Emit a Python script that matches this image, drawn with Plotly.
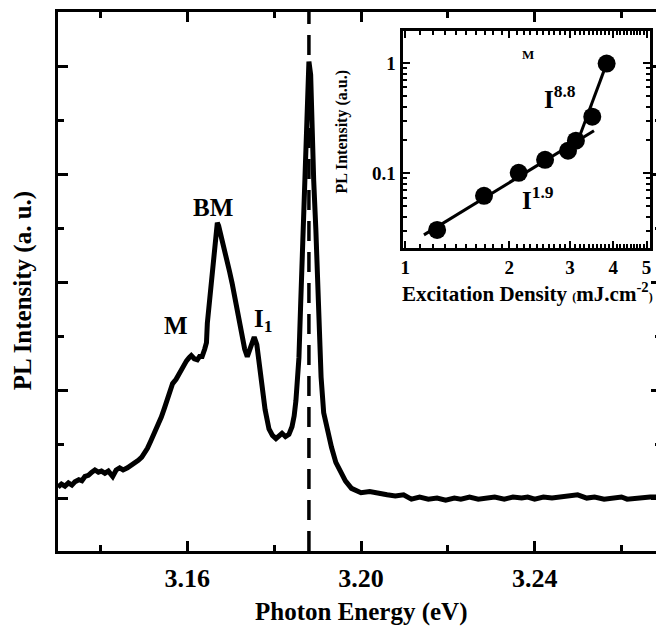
import plotly.graph_objects as go

# ---------------- main spectrum data ----------------
energy_eV = [3.1302, 3.1310, 3.1318, 3.1326, 3.1334, 3.1341, 3.1350, 3.1357, 3.1364, 3.1372,
             3.1380, 3.1387, 3.1395, 3.1402, 3.1410, 3.1418, 3.1428, 3.1436, 3.1444, 3.1452,
             3.1462, 3.1470, 3.1479, 3.1487, 3.1495, 3.1502, 3.1508, 3.1516, 3.1524, 3.1532,
             3.1540, 3.1547, 3.1554, 3.1560, 3.1566, 3.1574, 3.1582, 3.1590, 3.1598, 3.1604,
             3.1609, 3.1616, 3.1623, 3.1628, 3.1634, 3.1640, 3.1644, 3.1646, 3.1652, 3.1657,
             3.1662, 3.1666, 3.1669, 3.1672, 3.1676, 3.1680, 3.1686, 3.1692, 3.1697, 3.1703,
             3.1709, 3.1715, 3.1720, 3.1726, 3.1732, 3.1738, 3.1743, 3.1747, 3.1754, 3.1760,
             3.1765, 3.1770, 3.1775, 3.1779, 3.1788, 3.1796, 3.1804, 3.1811, 3.1818, 3.1826,
             3.1834, 3.1841, 3.1846, 3.1850, 3.1854, 3.1857, 3.1861, 3.1864, 3.1868, 3.1873,
             3.1877, 3.1880, 3.1884, 3.1887, 3.1891, 3.1896, 3.1903, 3.1908, 3.1914, 3.1923,
             3.1932, 3.1942, 3.1953, 3.1964, 3.1978, 3.2000, 3.2020, 3.2040, 3.2060, 3.2079,
             3.2098, 3.2116, 3.2135, 3.2155, 3.2175, 3.2195, 3.2215, 3.2230, 3.2250, 3.2270,
             3.2290, 3.2308, 3.2330, 3.2350, 3.2370, 3.2384, 3.2400, 3.2420, 3.2440, 3.2460,
             3.2480, 3.2499, 3.2520, 3.2538, 3.2560, 3.2580, 3.2600, 3.2613, 3.2630, 3.2650,
             3.2666, 3.2691]
pl_intensity = [0.10, 0.13, 0.11, 0.14, 0.12, 0.15, 0.17, 0.16, 0.20, 0.21,
                0.24, 0.26, 0.24, 0.25, 0.23, 0.25, 0.20, 0.26, 0.28, 0.26,
                0.28, 0.30, 0.32, 0.35, 0.38, 0.42, 0.46, 0.53, 0.60, 0.68,
                0.75, 0.83, 0.91, 0.99, 1.06, 1.10, 1.16, 1.21, 1.27, 1.30,
                1.32, 1.29, 1.28, 1.31, 1.31, 1.38, 1.44, 1.62, 1.86, 2.08,
                2.30, 2.45, 2.55, 2.52, 2.46, 2.38, 2.30, 2.20, 2.10, 1.99,
                1.87, 1.74, 1.62, 1.49, 1.38, 1.31, 1.36, 1.42, 1.49, 1.42,
                1.25, 1.07, 0.93, 0.82, 0.64, 0.58, 0.55, 0.58, 0.60, 0.57,
                0.59, 0.66, 0.76, 0.90, 1.10, 1.30, 1.80, 2.20, 2.80, 3.35,
                3.85, 4.04, 3.92, 3.41, 2.94, 2.48, 1.56, 1.12, 0.79, 0.60,
                0.47, 0.33, 0.24, 0.16, 0.09, 0.05, 0.06, 0.04, 0.03, 0.02,
                0.03, -0.01, 0.01, -0.01, 0.00, -0.02, 0.00, -0.01, 0.01, -0.01,
                0.00, 0.01, -0.01, 0.01, 0.00, 0.01, -0.01, 0.01, 0.00, 0.01,
                0.02, 0.03, 0.00, 0.01, -0.01, 0.00, 0.01, -0.01, 0.00, 0.01,
                0.01, 0.01]
marker_energy = [3.188]

x_tick_vals = [3.16, 3.20, 3.24]
x_tick_text = ["3.16", "3.20", "3.24"]

# ---------------- inset data ----------------
density = [1.236, 1.69, 2.13, 2.54, 2.96, 3.12, 3.48, 3.83]
intensity_M = [0.0305, 0.0622, 0.1006, 0.132, 0.1595, 0.197, 0.325, 0.986]
fit_low_x = [1.132, 3.52]
fit_low_y = [0.0275, 0.2425]
fit_high_x = [3.21, 3.83]
fit_high_y = [0.223, 0.986]

inset_x_ticks = [1, 2, 3, 4, 5]
inset_x_labels = ["1", "2", "3", "4", "5"]
inset_x_minor = [1.1, 1.2, 1.3, 1.4, 1.5, 1.6, 1.7, 1.8, 1.9,
                 2.1, 2.2, 2.3, 2.4, 2.5, 2.6, 2.7, 2.8, 2.9,
                 3.1, 3.2, 3.3, 3.4, 3.5, 3.6, 3.7, 3.8, 3.9,
                 4.1, 4.2, 4.3, 4.4, 4.5, 4.6, 4.7, 4.8, 4.9]
inset_y_ticks = [0.1, 1]
inset_y_labels = ["0.1", "1"]
inset_y_minor = [0.03, 0.04, 0.05, 0.06, 0.07, 0.08, 0.09,
                 0.2, 0.3, 0.4, 0.5, 0.6, 0.7, 0.8, 0.9]

FONT = "Liberation Serif"
OFF = 8  # page body margin offset
W, H = 664 - OFF, 628 - OFF
L, T = 58 - OFF, 12 - OFF
R = 0
B = H - (551 - OFF)
PW, PH = W - L - R, H - T - B


def px(xp):
    return (xp - OFF - L) / PW


def py(yp):
    return (H - B - (yp - OFF)) / PH


def f(size):
    return dict(family=FONT, size=size, color="black", weight="bold")


fig = go.Figure()
fig.add_trace(go.Scatter(x=energy_eV, y=pl_intensity, mode="lines",
                         line=dict(color="black", width=5), xaxis="x", yaxis="y",
                         showlegend=False))
fig.add_trace(go.Scatter(x=fit_low_x, y=fit_low_y, mode="lines",
                         line=dict(color="black", width=3), xaxis="x2", yaxis="y2",
                         showlegend=False))
fig.add_trace(go.Scatter(x=fit_high_x, y=fit_high_y, mode="lines",
                         line=dict(color="black", width=3), xaxis="x2", yaxis="y2",
                         showlegend=False))
fig.add_trace(go.Scatter(x=density, y=intensity_M, mode="markers",
                         marker=dict(color="black", size=18), xaxis="x2", yaxis="y2",
                         showlegend=False))

for xv in marker_energy:
    fig.add_shape(type="line", xref="x", yref="paper", x0=xv, x1=xv, y0=0, y1=1,
                  line=dict(color="black", width=3.5, dash="20px,11px"))

axis_common = dict(showgrid=False, zeroline=False, showline=True, linecolor="black",
                   ticks="inside", tickcolor="black", mirror="ticks")

fig.update_layout(
    width=W, height=H,
    margin=dict(l=L, r=R, t=T, b=B),
    paper_bgcolor="white", plot_bgcolor="rgba(0,0,0,0)",
    font=f(20),
    xaxis=dict(axis_common, domain=[0, 1], range=[3.1302, 3.2691], tickvals=x_tick_vals,
               ticktext=x_tick_text, ticklen=10, tickwidth=3, linewidth=3,
               tickfont=f(26), ticklabelstandoff=2,
               minor=dict(dtick=0.02, tick0=3.16, ticks="inside", ticklen=6, tickwidth=3,
                          tickcolor="black", showgrid=False)),
    yaxis=dict(axis_common, domain=[0, 1], range=[-0.49, 4.5], tick0=0, dtick=1,
               showticklabels=False, ticklen=10, tickwidth=3, linewidth=3,
               minor=dict(dtick=0.5, tick0=0, ticks="inside", ticklen=6, tickwidth=3,
                          tickcolor="black", showgrid=False)),
    xaxis2=dict(axis_common, type="log", domain=[px(405), px(653)], range=[-0.006, 0.709],
                anchor="y2", mirror="allticks", tickvals=inset_x_ticks, ticktext=inset_x_labels,
                ticklen=7, tickwidth=2, linewidth=2.5, tickfont=f(19), ticklabelstandoff=0,
                minor=dict(tickvals=inset_x_minor, ticks="inside", ticklen=4, tickwidth=1.5,
                           tickcolor="black", showgrid=False)),
    yaxis2=dict(axis_common, type="log", domain=[py(248), py(31)], range=[-1.68, 0.29],
                anchor="x2", mirror="allticks", tickvals=inset_y_ticks, ticktext=inset_y_labels,
                ticklen=7, tickwidth=2, linewidth=2.5, tickfont=f(19), ticklabelstandoff=1,
                minor=dict(tickvals=inset_y_minor, ticks="inside", ticklen=4, tickwidth=1.5,
                           tickcolor="black", showgrid=False)),
)

annotations = [
    dict(text="Photon Energy (eV)", x=px(363), y=py(612), font=f(25)),
    dict(text="PL Intensity (a. u.)", x=px(23), y=py(291), font=f(25), textangle=-90),
    dict(text="BM", x=px(214), y=py(207), font=f(25)),
    dict(text="M", x=px(177), y=py(326), font=f(25)),
    dict(text="I<sub>1</sub>", x=px(264), y=py(320), font=f(25)),
    dict(text="PL Intensity (a.u.)", x=px(343), y=py(132), font=f(16), textangle=-90),
    dict(text="Excitation Density <span style='font-size:12px'>(</span>mJ.cm<sup>-2</sup>"
              "<span style='font-size:12px'>)</span>", x=px(530), y=py(292), font=f(21)),
    dict(text="M", x=px(530), y=py(54), font=f(13)),
    dict(text="I<sup>8.8</sup>", x=px(562), y=py(97), font=f(25)),
    dict(text="I<sup>1.9</sup>", x=px(540), y=py(198), font=f(25)),
]
for a in annotations:
    a.update(xref="paper", yref="paper", showarrow=False, xanchor="center", yanchor="middle")
fig.update_layout(annotations=annotations)

fig.write_html("out.html")
